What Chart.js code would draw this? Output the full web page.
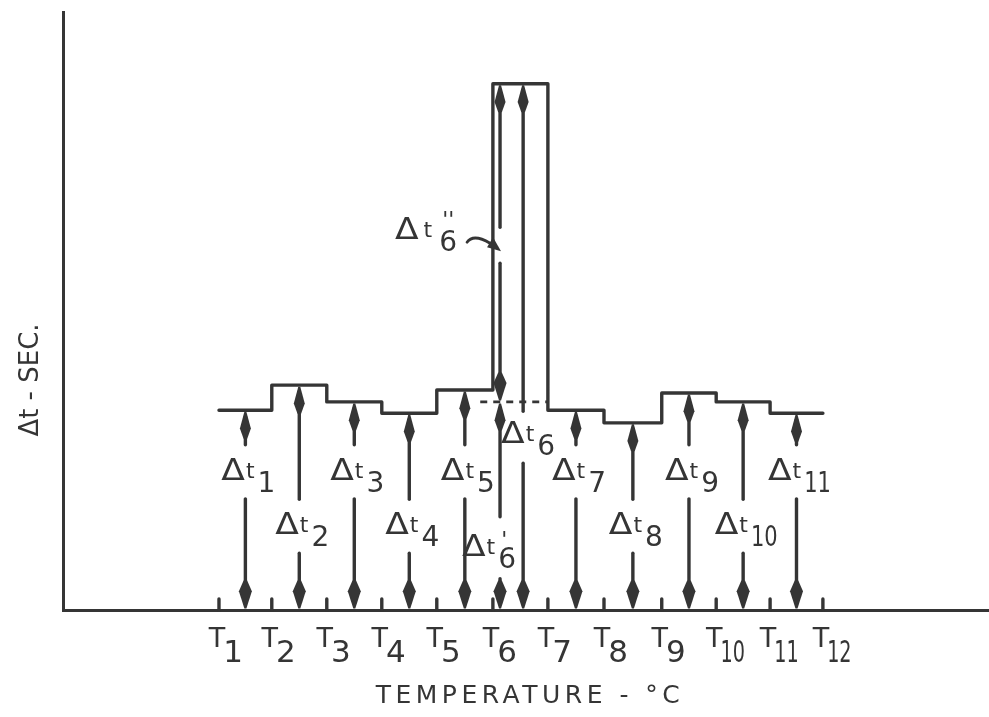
<!DOCTYPE html>
<html>
<head>
<meta charset="utf-8">
<script src="https://cdn.jsdelivr.net/npm/chart.js@4.4.1/dist/chart.umd.min.js"></script>
<style>
  html, body { margin: 0; padding: 0; background: #fff; }
  #wrap { width: 989px; height: 717px; }
</style>
</head>
<body>
<div id="wrap"><canvas id="dtChart" width="989" height="717"></canvas></div>
<script>
// temperature positions of T1..T12 (arbitrary units)
const tempTicks = [1, 1.96, 2.96, 3.96, 4.96, 5.98, 6.98, 8.0, 9.05, 10.04, 11.02, 11.98];
const tickNames = ['1', '2', '3', '4', '5', '6', '7', '8', '9', '10', '11', '12'];

// delta-t level over each interval T(i)..T(i+1)
const stepLevels = [33.4, 37.6, 34.8, 32.9, 36.8, 88.0, 33.4, 31.3, 36.3, 34.8, 32.9];
const dtNames = ['1', '2', '3', '4', '5', '6', '7', '8', '9', '10', '11'];

// dashed baseline under the peak (x from/to, level)
const peakBaseX = [5.75, 6.98];
const peakBaseLevel = 34.8;
// where the split arrows stand inside the peak interval: t6' / t6'' and t6
const peakArrowX = [6.11, 6.53];
const PEAK = 5;

const INK = '#353535';
const FONT = '"DejaVu Sans", sans-serif';

const stepPoints = tempTicks.map((t, i) => ({ x: t, y: stepLevels[Math.max(i - 1, 0)] }));
const basePoints = peakBaseX.map(t => ({ x: t, y: peakBaseLevel }));

function vline(ctx, x, y1, y2) {
    ctx.beginPath();
    ctx.moveTo(x, y1);
    ctx.lineTo(x, y2);
    ctx.stroke();
}

// spindle shaped arrow head, dir -1 = pointing up, +1 = pointing down
function head(ctx, x, tipY, dir, len, w) {
    const back = tipY - dir * len;
    const wide = tipY - dir * len * 0.62;
    ctx.beginPath();
    ctx.moveTo(x - 1, tipY);
    ctx.lineTo(x + 1, tipY);
    ctx.lineTo(x + w, wide);
    ctx.lineTo(x + 1.8, back);
    ctx.lineTo(x - 1.8, back);
    ctx.lineTo(x - w, wide);
    ctx.closePath();
    ctx.fill();
}

function arrow(ctx, x, yBot, yTop, g, half) {
    vline(ctx, x, yTop + 6, g - half);
    vline(ctx, x, g + half, yBot - 6);
    head(ctx, x, yTop + 1.5, -1, 27, 5.5);
    head(ctx, x, yBot - 1.5, 1, 28, 6.5);
}

// text drawn with a horizontal stretch (for the lettering style of the figure)
function scaledText(ctx, text, x, y, sx) {
    ctx.save();
    ctx.translate(x, y);
    ctx.scale(sx, 1);
    ctx.fillText(text, 0, 0);
    ctx.restore();
}

function dtLabel(ctx, cx, g, sub, primes, primeDy, spread) {
    spread = spread || 0;
    const sx = sub.length > 1 ? 0.75 : 1;
    const dx = 1.15;
    ctx.textAlign = 'left';
    ctx.textBaseline = 'alphabetic';
    ctx.font = '30px ' + FONT; const wD = ctx.measureText('\u0394').width * dx;
    ctx.font = '22px ' + FONT; const wT = ctx.measureText('t').width;
    ctx.font = '28px ' + FONT; const wS = ctx.measureText(sub).width * sx;
    const total = wD + wT + wS + 4 + 2 * spread;
    const x0 = cx - total / 2;
    const xs = x0 + wD + wT + 4 + 2 * spread;
    ctx.font = '30px ' + FONT; scaledText(ctx, '\u0394', x0, g + 8, dx);
    ctx.font = '22px ' + FONT; ctx.fillText('t', x0 + wD + 1 + spread, g + 6);
    ctx.font = '28px ' + FONT; scaledText(ctx, sub, xs, g + 20, sx);
    if (primes) {
        ctx.font = '22px ' + FONT;
        ctx.fillText(primes, xs + 3, g + 20 - primeDy);
    }
}

const dtPlugin = {
    id: 'dtArrows',
    afterDatasetsDraw(chart) {
        const { ctx, scales: { x, y } } = chart;
        const px = v => x.getPixelForValue(v);
        const py = v => y.getPixelForValue(v);
        const axisY = py(0);
        ctx.save();
        ctx.strokeStyle = INK;
        ctx.fillStyle = INK;
        ctx.lineWidth = 3.4;
        ctx.lineCap = 'round';

        // little ticks standing on the axis
        tempTicks.forEach(t => vline(ctx, px(t), axisY, axisY - 11));

        // ordinary intervals: labels alternate between two rows
        stepLevels.forEach((lvl, i) => {
            if (i === PEAK) return;
            const ax = px((tempTicks[i] + tempTicks[i + 1]) / 2);
            const g = py(i % 2 === 0 ? 23.1 : 14.0);
            arrow(ctx, ax, axisY, py(lvl), g, 27);
            dtLabel(ctx, ax + 3, g, dtNames[i], '', 0);
        });

        // the peak interval, split in three arrows
        const xa = px(peakArrowX[0]);
        const xb = px(peakArrowX[1]);
        const top = py(stepLevels[PEAK]);
        const base = py(peakBaseLevel);

        const gB = py(28.9);
        arrow(ctx, xb, axisY, top, gB, 26);
        dtLabel(ctx, xb + 5, gB - 2, '6', '', 0);

        const gA1 = py(10.4);
        arrow(ctx, xa, axisY, base, gA1, 31);
        dtLabel(ctx, xa - 11, gA1, '6', '\'', 21);

        const gA2 = py(61.0);
        arrow(ctx, xa, base, top, gA2, 18);
        dtLabel(ctx, xa - 74, gA2 - 14, '6', '\'\'', 24, 4);

        // leader from the t6'' label
        ctx.lineWidth = 2.8;
        ctx.beginPath();
        ctx.moveTo(xa - 33, gA2 - 3);
        ctx.bezierCurveTo(xa - 28, gA2 - 10, xa - 20, gA2 - 8, xa - 10, gA2 - 2);
        ctx.stroke();
        ctx.beginPath();
        ctx.moveTo(xa + 1, gA2 + 6);
        ctx.lineTo(xa - 7, gA2 - 8);
        ctx.lineTo(xa - 13, gA2 + 2);
        ctx.closePath();
        ctx.fill();

        // T tick labels
        ctx.textBaseline = 'alphabetic';
        tempTicks.forEach((t, i) => {
            const tx = px(t) - 2;
            ctx.font = '27px ' + FONT;
            ctx.textAlign = 'center';
            const wT = ctx.measureText('T').width;
            ctx.fillText('T', tx, axisY + 37);
            ctx.font = '31px ' + FONT;
            ctx.textAlign = 'left';
            const sx = tickNames[i].length > 1 ? 0.62 : 1;
            scaledText(ctx, tickNames[i], tx + wT / 2 - 2, axisY + 52, sx);
        });

        // axis titles
        ctx.font = '25px ' + FONT;
        ctx.textAlign = 'center';
        ctx.letterSpacing = '4.5px';
        ctx.fillText('TEMPERATURE - \u00B0C', (x.left + x.right) / 2 + 4, axisY + 93);
        ctx.letterSpacing = '0px';

        ctx.save();
        ctx.translate(x.left - 25, (y.top + y.bottom) / 2 + 69);
        ctx.rotate(-Math.PI / 2);
        ctx.font = '26px ' + FONT;
        ctx.textAlign = 'center';
        ctx.fillText('\u0394t - SEC.', 0, 0);
        ctx.restore();

        ctx.restore();
    }
};

const ctx = document.getElementById('dtChart').getContext('2d');
const dtChart = new Chart(ctx, {
    type: 'line',
    data: {
        datasets: [
            {
                label: 'delta t',
                data: stepPoints,
                stepped: 'after',
                borderColor: INK,
                borderWidth: 3.4,
                borderJoinStyle: 'round',
                borderCapStyle: 'round',
                pointRadius: 0,
                fill: false,
            },
            {
                label: 'baseline',
                data: basePoints,
                borderColor: INK,
                borderWidth: 2.6,
                borderDash: [7, 6],
                pointRadius: 0,
                fill: false,
            },
        ],
    },
    options: {
        responsive: false,
        animation: false,
        layout: { padding: { left: 63, top: 12, right: 0, bottom: 107 } },
        plugins: {
            legend: { display: false },
            tooltip: { enabled: false },
        },
        scales: {
            x: {
                type: 'linear',
                min: -1.836,
                max: 15.0,
                ticks: { display: false },
                grid: { display: false, drawTicks: false },
                border: { color: INK, width: 3 },
            },
            y: {
                min: 0,
                max: 100,
                ticks: { display: false },
                grid: { display: false, drawTicks: false },
                border: { color: INK, width: 3 },
            },
        },
    },
    plugins: [dtPlugin],
});
</script>
</body>
</html>
